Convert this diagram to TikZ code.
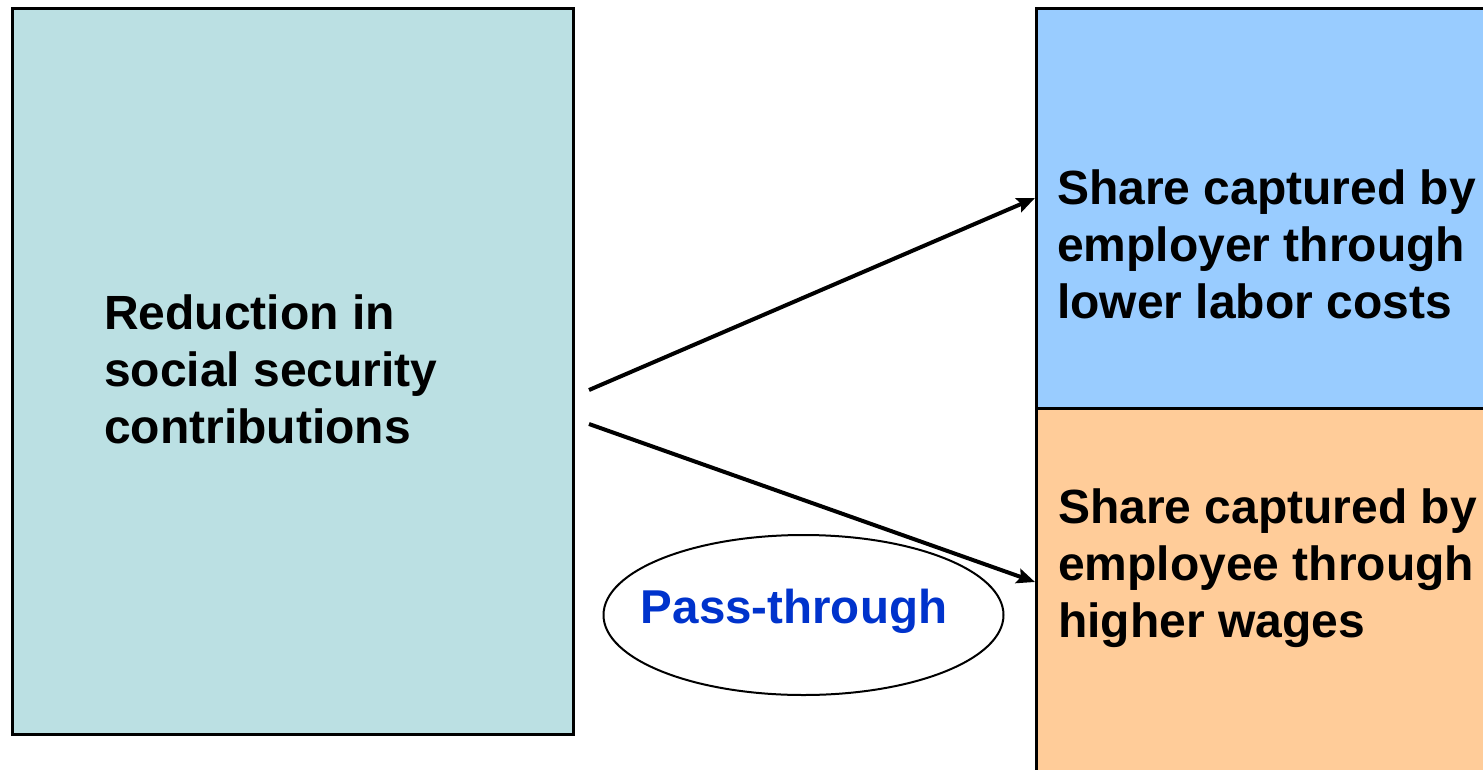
\documentclass[tikz,border=0pt]{standalone}
\usepackage{fontspec}
\setmainfont{Liberation Sans}
\usetikzlibrary{arrows.meta,shapes.geometric}
\definecolor{leftfill}{HTML}{BBE0E3}
\definecolor{bluefill}{HTML}{99CCFF}
\definecolor{orangefill}{HTML}{FFCC99}
\definecolor{passblue}{HTML}{0033CC}
\tikzset{
  box/.style={draw=black, line width=3pt, rectangle, inner sep=0pt, anchor=north west},
  bigtext/.style={font=\fontsize{48}{57}\selectfont\bfseries, align=left, inner sep=0pt, anchor=base west},
  arr/.style={line width=4pt, -{Stealth[length=18pt,width=15pt,inset=3pt]}},
  oval/.style={draw=black, line width=2pt, ellipse, inner sep=0pt, minimum width=400pt, minimum height=160pt}
}
\begin{document}
\begin{tikzpicture}[x=1pt,y=-1pt]
\useasboundingbox[fill=white] (0,0) rectangle (1483,769);
% boxes
\node[box, fill=leftfill, minimum width=561pt, minimum height=726pt] (left) at (11,7) {};
\node[box, fill=bluefill, minimum width=480pt, minimum height=400pt] (top) at (1035,7) {};
\node[box, fill=orangefill, minimum width=480pt, minimum height=400pt] (bottom) at (1035,407) {};
% texts (anchored at the baseline of the last line)
\node[bigtext] (lefttext) at (104,443) {Reduction in\\social security\\contributions};
\node[bigtext] (toptext) at (1057,318) {Share captured by\\employer through\\lower labor costs};
\node[bigtext] (bottomtext) at (1058,637) {Share captured by\\employee through\\higher wages};
% ellipse
\node[oval] (pass) at (803.5,615) {};
\node[font=\fontsize{47.5}{57}\selectfont\bfseries, text=passblue, inner sep=0pt, anchor=base] (passtext) at (794,623) {Pass-through};
% arrows
\coordinate (s1) at (589,390);
\coordinate (s2) at (589,424);
\coordinate (e1) at (1035,198);
\coordinate (e2) at (1035,582);
\draw[arr] (s1) -- (top.west |- e1);
\draw[arr] (s2) -- (bottom.west |- e2);
\end{tikzpicture}
\end{document}
